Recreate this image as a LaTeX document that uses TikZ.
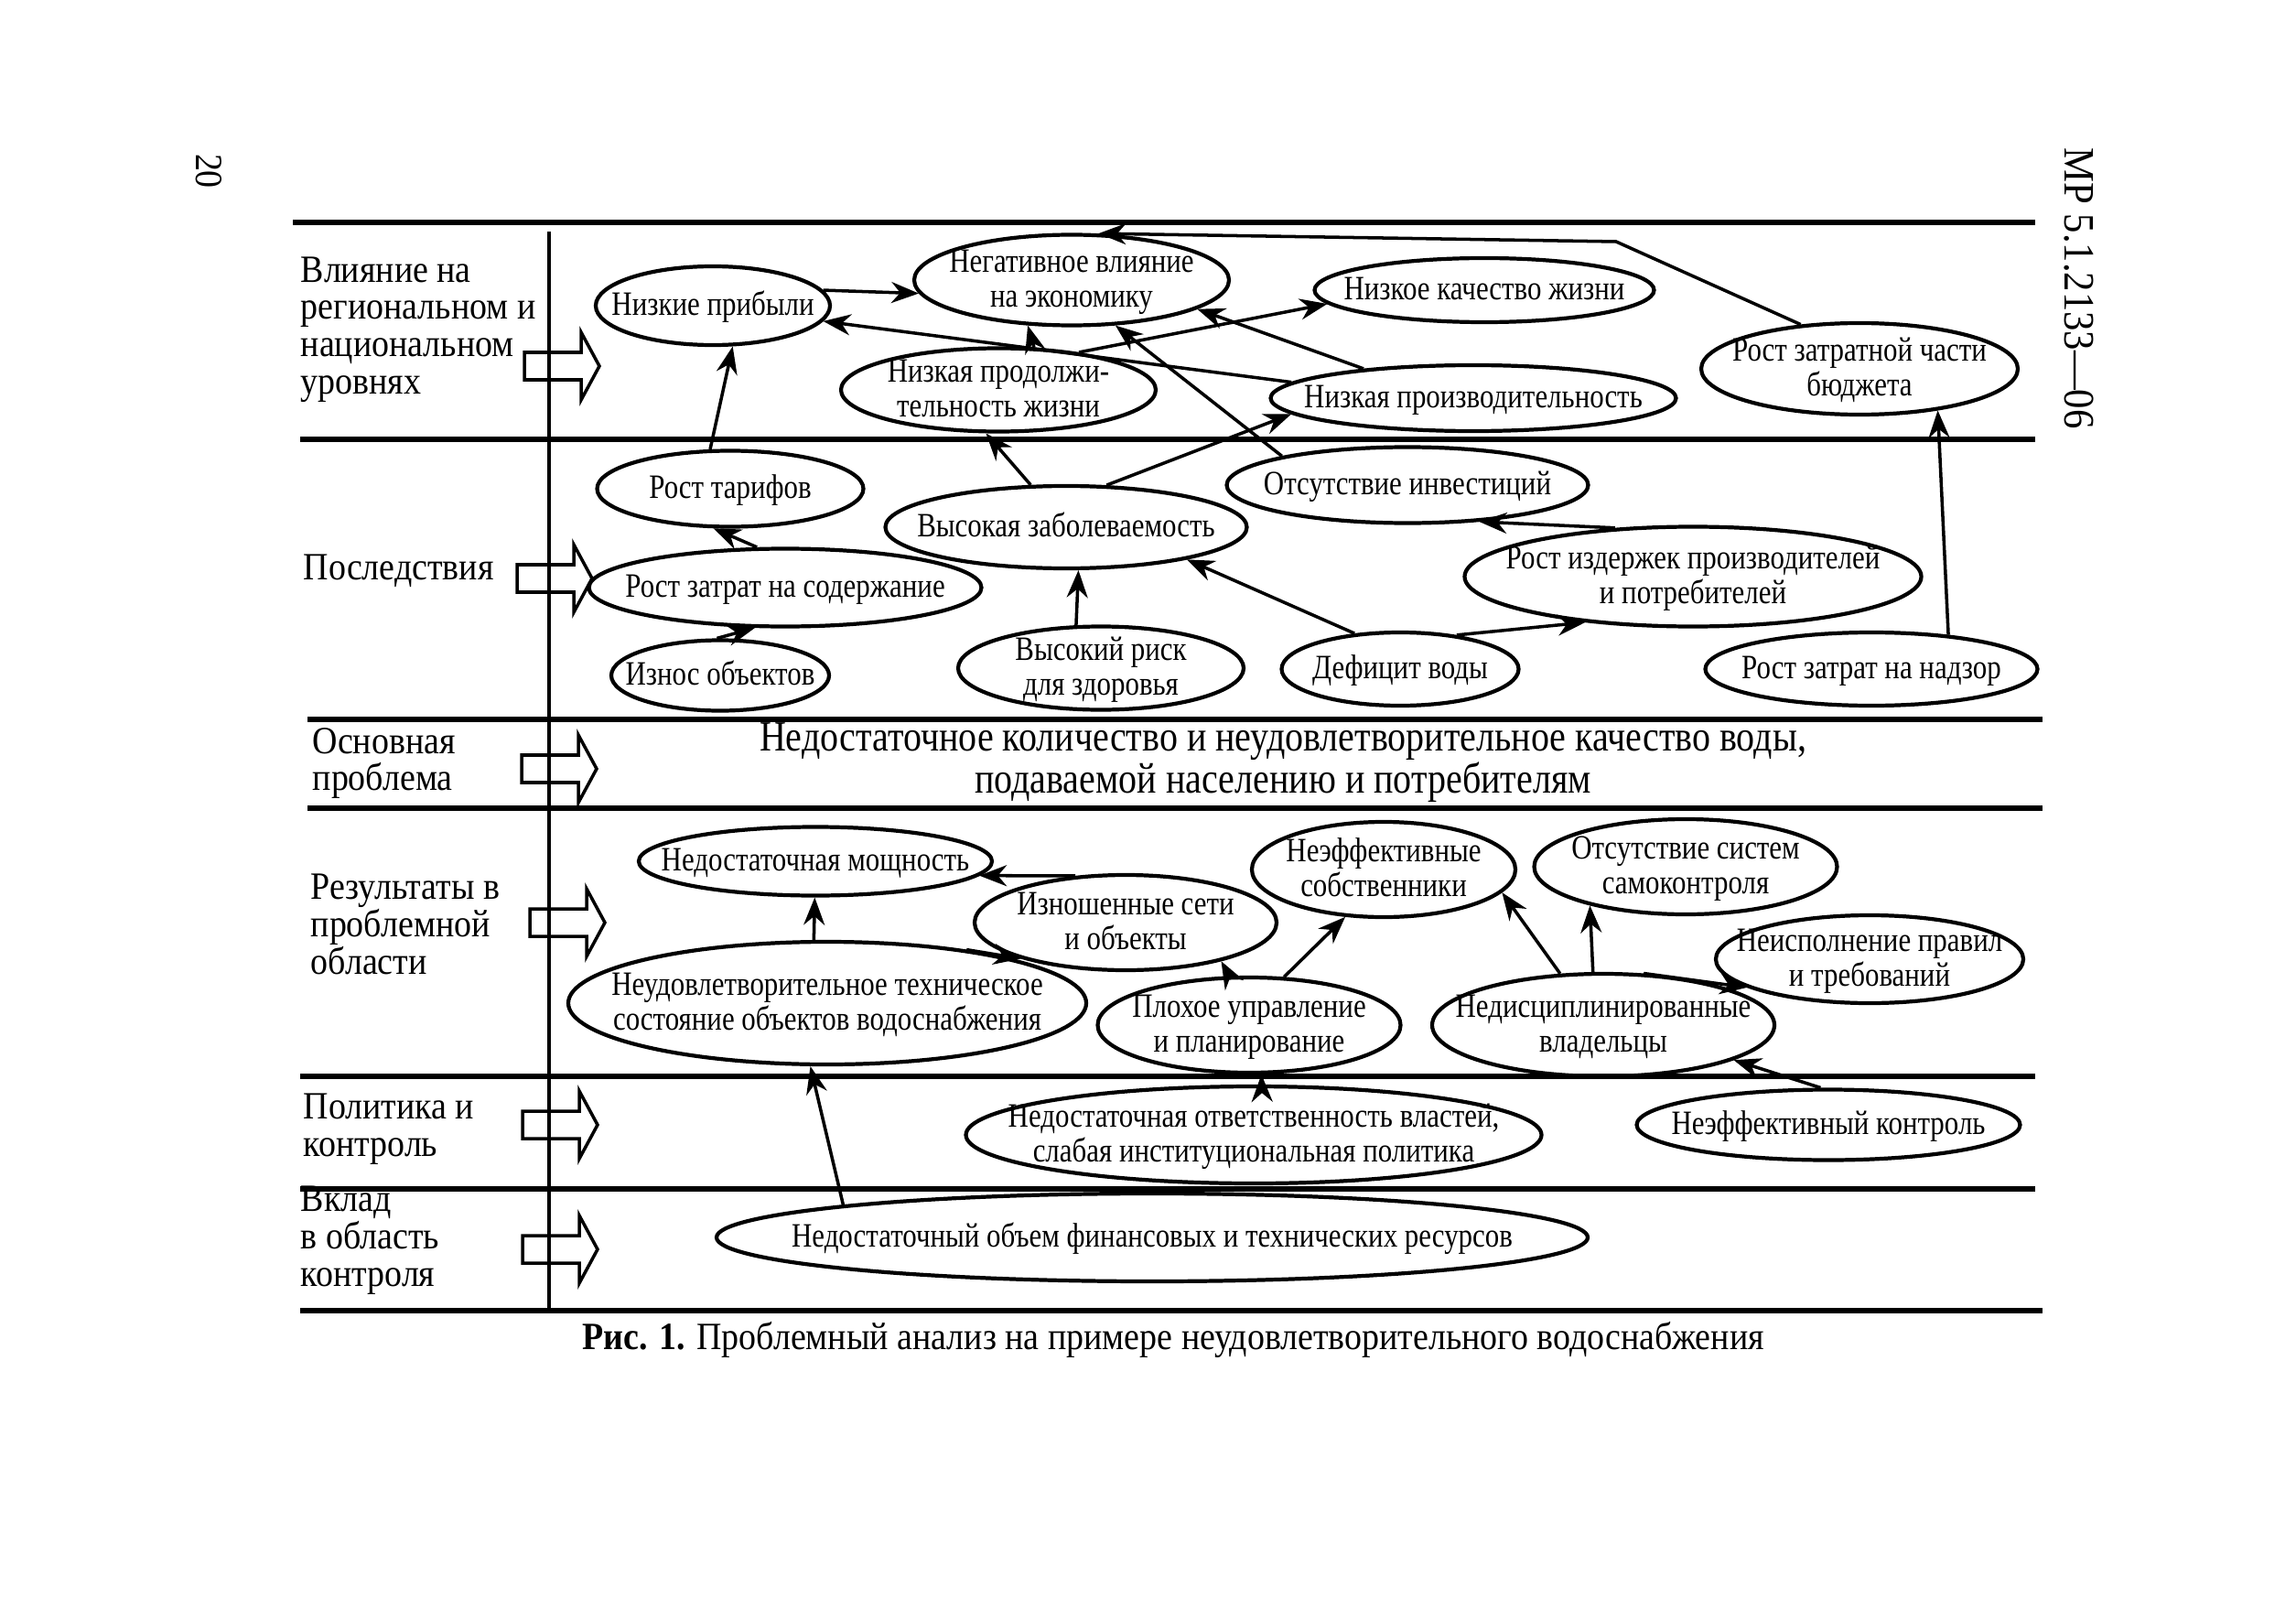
\documentclass[tikz,border=0pt]{standalone}
\usepackage{fontspec}
\setmainfont{Liberation Serif}[FakeStretch=0.9]
\newfontfamily\corefont{Liberation Serif}[FakeStretch=0.85]
\newfontfamily\ellfont{Liberation Serif}[FakeStretch=0.83]
\usetikzlibrary{shapes.geometric, arrows.meta}
% text inside an ellipse, so that only minimum width/height set its size
\newcommand{\inell}[1]{\smash{\makebox[0pt]{\raisebox{-3.6pt}{\begin{tabular}{@{}c@{}}#1\end{tabular}}}}}

\begin{document}
\begin{tikzpicture}[
    problem/.style={ellipse, draw, line width=1.2pt, inner sep=0pt, font=\ellfont\fontsize{10.6}{10.8}\selectfont},
    conn/.style={-{Stealth[length=3mm, width=2.3mm]}, line width=1pt},
    band/.style={line width=1.7pt},
    rowlabel/.style={anchor=west, align=left, inner sep=0pt, font=\fontsize{12}{11.6}\selectfont},
    blockarrow/.style={line width=1pt, line join=miter}
]
    \path[fill=white] (0,0) rectangle (25.09,-17.70);

    % Page header
    \node[rotate=-90, font=\fontsize{12}{12}\selectfont] (pageNo) at (2.28,-1.87) {20};
    \node[rotate=-90, font=\fontsize{13.5}{14}\selectfont] (docCode) at (22.72,-3.15) {МР 5.1.2133—06};

    % Bands
    \draw[band] (3.20,-2.43) -- (22.24,-2.43);
    \draw[band] (3.28,-4.80) -- (22.24,-4.80);
    \draw[band] (3.36,-7.86) -- (22.32,-7.86);
    \draw[band] (3.36,-8.83) -- (22.32,-8.83);
    \draw[band] (3.28,-11.76) -- (22.24,-11.76);
    \draw[band] (3.28,-12.99) -- (22.24,-12.99);
    \draw[band] (3.28,-14.32) -- (22.32,-14.32);
    \draw[line width=0.9pt] (6.00,-2.53) -- (6.00,-14.32);

    % Row labels
    \node[rowlabel] (lblImpact) at (3.28,-3.60) {Влияние на\\региональном и\\национальном\\уровнях};
    \node[rowlabel] (lblConseq) at (3.31,-6.24) {Последствия};
    \node[rowlabel] (lblCore) at (3.41,-8.34) {Основная\\проблема};
    \node[rowlabel] (lblResults) at (3.39,-10.10) {Результаты в\\проблемной\\области};
    \node[rowlabel] (lblPolicy) at (3.31,-12.34) {Политика и\\контроль};
    \node[rowlabel] (lblInput) at (3.28,-13.55) {Вклад\\в область\\контроля};

    % Block arrows
    \foreach \x/\y in {5.73/-4.00, 5.65/-6.32, 5.70/-8.40, 5.79/-10.08, 5.71/-12.29, 5.71/-13.65}
        \draw[blockarrow] (\x,\y) ++(0,0.15) -- ++(0.62,0) -- ++(0,0.22) -- ++(0.2,-0.37)
            -- ++(-0.2,-0.37) -- ++(0,0.22) -- ++(-0.62,0) -- cycle;

    % Impact
    \node[problem, minimum width=2.56cm, minimum height=0.86cm] (profits) at (7.79,-3.34) {\inell{Низкие прибыли}};
    \node[problem, minimum width=3.44cm, minimum height=0.99cm] (econ) at (11.71,-3.06) {\inell{Негативное влияние\\на экономику}};
    \node[problem, minimum width=3.71cm, minimum height=0.70cm] (quality) at (16.22,-3.17) {\inell{Низкое качество жизни}};
    \node[problem, minimum width=3.44cm, minimum height=0.91cm] (lifespan) at (10.91,-4.26) {\inell{Низкая продолжи-\\тельность жизни}};
    \node[problem, minimum width=4.43cm, minimum height=0.72cm] (productivity) at (16.10,-4.35) {\inell{Низкая производительность}};
    \node[problem, minimum width=3.46cm, minimum height=1.00cm] (budget) at (20.32,-4.03) {\inell{Рост затратной части\\бюджета}};

    % Consequences
    \node[problem, minimum width=2.91cm, minimum height=0.83cm] (tariffs) at (7.98,-5.34) {\inell{Рост тарифов}};
    \node[problem, minimum width=3.95cm, minimum height=0.90cm] (morbidity) at (11.65,-5.76) {\inell{Высокая заболеваемость}};
    \node[problem, minimum width=3.95cm, minimum height=0.83cm] (invest) at (15.38,-5.30) {\inell{Отсутствие инвестиций}};
    \node[problem, minimum width=4.29cm, minimum height=0.85cm] (upkeep) at (8.58,-6.42) {\inell{Рост затрат на содержание}};
    \node[problem, minimum width=4.99cm, minimum height=1.09cm] (costs) at (18.50,-6.30) {\inell{Рост издержек производителей\\и потребителей}};
    \node[problem, minimum width=2.38cm, minimum height=0.77cm] (wear) at (7.87,-7.38) {\inell{Износ объектов}};
    \node[problem, minimum width=3.12cm, minimum height=0.91cm] (healthrisk) at (12.03,-7.30) {\inell{Высокий риск\\для здоровья}};
    \node[problem, minimum width=2.59cm, minimum height=0.80cm] (deficit) at (15.30,-7.31) {\inell{Дефицит воды}};
    \node[problem, minimum width=3.63cm, minimum height=0.80cm] (supervision) at (20.45,-7.31) {\inell{Рост затрат на надзор}};

    % Core problem
    \node[align=center, font=\corefont\fontsize{13.4}{12.9}\selectfont] (coreText) at (14.02,-8.33)
        {Недостаточное количество и неудовлетворительное качество воды,\\подаваемой населению и потребителям};

    % Results
    \node[problem, minimum width=3.86cm, minimum height=0.75cm] (capacity) at (8.91,-9.41) {\inell{Недостаточная мощность}};
    \node[problem, minimum width=3.30cm, minimum height=1.04cm] (worn) at (12.30,-10.08) {\inell{Изношенные сети\\и объекты}};
    \node[problem, minimum width=2.88cm, minimum height=1.04cm] (owners) at (15.12,-9.50) {\inell{Неэффективные\\собственники}};
    \node[problem, minimum width=3.31cm, minimum height=1.04cm] (selfctrl) at (18.42,-9.47) {\inell{Отсутствие систем\\самоконтроля}};
    \node[problem, minimum width=3.36cm, minimum height=0.96cm] (rules) at (20.43,-10.48) {\inell{Неисполнение правил\\и требований}};
    \node[problem, minimum width=5.66cm, minimum height=1.34cm] (techstate) at (9.04,-10.96) {\inell{Неудовлетворительное техническое\\состояние объектов водоснабжения}};
    \node[problem, minimum width=3.31cm, minimum height=1.04cm] (planning) at (13.65,-11.20) {\inell{Плохое управление\\и планирование}};
    \node[problem, minimum width=3.74cm, minimum height=1.12cm] (undisc) at (17.52,-11.20) {\inell{Недисциплинированные\\владельцы}};

    % Policy and inputs
    \node[problem, minimum width=6.29cm, minimum height=1.06cm] (authority) at (13.70,-12.40) {\inell{Недостаточная ответственность властей,\\слабая институциональная политика}};
    \node[problem, minimum width=4.19cm, minimum height=0.77cm] (control) at (19.98,-12.29) {\inell{Неэффективный контроль}};
    \node[problem, minimum width=9.52cm, minimum height=0.96cm] (resources) at (12.59,-13.52) {\inell{Недостаточный объем финансовых и технических ресурсов}};

    \coordinate (budgetBend) at (17.66,-2.64);

    % Links
    \draw[conn] (tariffs.117) -- (profits.-64);
    \draw[conn] (profits.8) -- (econ.185);
    \draw[conn] (lifespan.50) -- (econ.226);
    \draw[conn] (lifespan.25) -- (quality.185);
    \draw[conn] (productivity.175) -- (profits.-8);
    \draw[conn] (productivity.165) -- (econ.-13);
    \draw[conn] (invest.167) -- (econ.-46);
    \draw[conn] (morbidity.130) -- (lifespan.254);
    \draw[conn] (morbidity.46) -- (productivity.185);
    \draw[conn] (budget.143) -- (budgetBend) -- (econ.60);
    \draw[conn] (upkeep.125) -- (tariffs.247);
    \draw[conn] (wear.95) -- (upkeep.233);
    \draw[conn] (healthrisk.120) -- (morbidity.-74);
    \draw[conn] (deficit.142) -- (morbidity.-15);
    \draw[conn] (deficit.31) -- (costs.203);
    \draw[conn] (costs.148) -- (invest.-27);
    \draw[conn] (supervision.24) -- (budget.-28);
    \draw[conn] (techstate.102) -- (capacity.-91);
    \draw[conn] (techstate.21) -- (worn.199);
    \draw[conn] (worn.137) -- (capacity.-5);
    \draw[conn] (planning.112) -- (worn.-22);
    \draw[conn] (planning.54) -- (owners.231);
    \draw[conn] (undisc.130) -- (owners.-11);
    \draw[conn] (undisc.101) -- (selfctrl.202);
    \draw[conn] (undisc.52) -- (rules.193);
    \draw[conn] (authority.81) -- (planning.-76);
    \draw[conn] (control.102) -- (undisc.-15);
    \draw[conn] (resources.174) -- (techstate.255);

    % Caption
    \node[font=\fontsize{12}{14}\selectfont] (caption) at (12.82,-14.64)
        {\textbf{Рис. 1.} Проблемный анализ на примере неудовлетворительного водоснабжения};
\end{tikzpicture}
\end{document}
